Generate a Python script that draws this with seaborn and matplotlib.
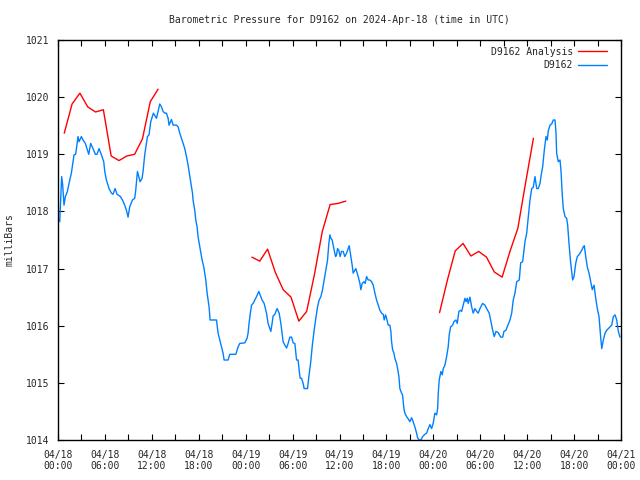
import numpy as np
import pandas as pd
import matplotlib
matplotlib.use("Agg")
import matplotlib.pyplot as plt
from matplotlib.lines import Line2D
import seaborn as sns

# Station D9162, 2024-04-18 00:00 UTC .. 2024-04-21 00:00 UTC (hours from start)
blue_hours = [
    0.22, 0.47, 0.6, 0.77, 0.94, 1.2, 1.5, 1.71, 2.05, 2.26, 2.56, 2.69, 2.99, 3.2, 3.5, 3.93,
    4.18, 4.48, 4.78, 4.99, 5.25, 5.55, 5.85, 5.98, 6.19, 6.53, 6.83, 7.04, 7.3, 7.55, 7.98,
    8.24, 8.53, 8.75, 8.96, 9.17, 9.52, 9.81, 9.94, 10.16, 10.5, 10.75, 10.88, 11.09, 11.44,
    11.64, 11.86, 12.2, 12.59, 12.8, 13.01, 13.23, 13.44, 13.65, 13.87, 14.08, 14.2, 14.38,
    14.51, 14.72, 15.15, 15.36, 15.57, 15.79, 16.0, 16.21, 16.43, 16.64, 16.76, 16.94, 17.07,
    17.2, 17.27, 17.49, 17.62, 17.79, 17.91, 18.13, 18.35, 18.48, 18.64, 18.77, 18.9, 19.07,
    19.19, 19.32, 19.45, 20.27, 20.47, 20.69, 20.91, 21.11, 21.24, 21.75, 21.97, 22.74, 23.03,
    23.25, 23.89, 24.18, 24.31, 24.44, 24.6, 24.75, 24.95, 25.17, 25.39, 25.68, 25.94, 26.1,
    26.36, 26.67, 26.87, 27.09, 27.22, 27.38, 27.51, 27.73, 28.02, 28.28, 28.5, 28.66, 28.79,
    29.01, 29.23, 29.43, 29.65, 29.87, 30.07, 30.29, 30.51, 30.71, 30.84, 30.97, 31.14, 31.35,
    31.48, 31.91, 32.08, 32.3, 32.55, 32.76, 32.94, 33.19, 33.4, 33.62, 33.83, 34.04, 34.26,
    34.47, 34.64, 34.77, 34.9, 35.06, 35.19, 35.32, 35.5, 35.62, 35.75, 35.91, 36.08, 36.26,
    36.47, 36.68, 36.9, 37.11, 37.24, 37.45, 37.62, 37.75, 37.97, 38.09, 38.26, 38.39, 38.61,
    38.73, 38.9, 39.12, 39.28, 39.46, 39.67, 39.89, 40.1, 40.31, 40.53, 40.74, 40.95, 41.17,
    41.38, 41.59, 41.72, 41.89, 42.02, 42.23, 42.44, 42.57, 42.66, 42.79, 42.96, 43.08, 43.3,
    43.43, 43.6, 43.72, 43.94, 44.06, 44.24, 44.36, 44.58, 44.79, 45.0, 45.22, 45.42, 45.64,
    45.86, 45.98, 46.19, 46.41, 46.63, 46.92, 47.14, 47.35, 47.56, 47.78, 47.98, 48.2, 48.42,
    48.55, 48.63, 48.75, 48.97, 49.14, 49.27, 49.48, 49.7, 49.9, 50.03, 50.21, 50.47, 50.63,
    50.89, 51.06, 51.27, 51.49, 51.62, 51.82, 52.04, 52.17, 52.34, 52.46, 52.68, 52.9, 53.1,
    53.32, 53.54, 53.74, 53.96, 54.3, 54.6, 54.82, 55.15, 55.37, 55.59, 55.79, 56.01, 56.3,
    56.61, 56.87, 57.03, 57.29, 57.45, 57.8, 58.02, 58.22, 58.44, 58.66, 58.99, 59.17, 59.42,
    59.72, 59.94, 60.06, 60.23, 60.36, 60.58, 60.78, 61.0, 61.22, 61.42, 61.64, 61.77, 61.98,
    62.19, 62.41, 62.57, 62.7, 62.92, 63.13, 63.34, 63.56, 63.69, 63.77, 63.98, 64.2, 64.33,
    64.49, 64.62, 64.84, 65.05, 65.18, 65.35, 65.57, 65.82, 65.99, 66.21, 66.41, 66.67, 66.98,
    67.18, 67.31, 67.49, 67.69, 67.91, 68.13, 68.33, 68.55, 68.77, 68.97, 69.19, 69.41, 69.54,
    69.74, 69.96, 70.17, 70.38, 70.6, 70.81, 71.02, 71.24, 71.45, 71.66, 71.87,
]
blue_mb = [
    1017.82, 1018.61, 1018.46, 1018.11, 1018.26, 1018.35, 1018.55, 1018.67, 1018.99, 1019.0,
    1019.31, 1019.22, 1019.31, 1019.25, 1019.19, 1019.0, 1019.19, 1019.1, 1019.0, 1019.0,
    1019.1, 1018.99, 1018.87, 1018.7, 1018.55, 1018.4, 1018.32, 1018.3, 1018.4, 1018.3,
    1018.26, 1018.2, 1018.11, 1018.02, 1017.9, 1018.08, 1018.2, 1018.23, 1018.37, 1018.7,
    1018.52, 1018.58, 1018.7, 1018.99, 1019.31, 1019.34, 1019.57, 1019.72, 1019.63, 1019.75,
    1019.88, 1019.83, 1019.75, 1019.72, 1019.72, 1019.63, 1019.51, 1019.57, 1019.61, 1019.51,
    1019.51, 1019.48, 1019.37, 1019.28, 1019.19, 1019.1, 1018.96, 1018.81, 1018.7, 1018.55,
    1018.43, 1018.32, 1018.2, 1018.02, 1017.85, 1017.73, 1017.56, 1017.38, 1017.21, 1017.12,
    1017.03, 1016.92, 1016.8, 1016.57, 1016.45, 1016.33, 1016.1, 1016.1, 1015.87, 1015.75,
    1015.63, 1015.52, 1015.4, 1015.4, 1015.5, 1015.5, 1015.63, 1015.69, 1015.7, 1015.78,
    1015.87, 1016.05, 1016.22, 1016.36, 1016.39, 1016.45, 1016.51, 1016.6, 1016.51, 1016.45,
    1016.39, 1016.22, 1016.04, 1015.95, 1015.9, 1016.04, 1016.17, 1016.2, 1016.3, 1016.22,
    1016.04, 1015.87, 1015.72, 1015.66, 1015.61, 1015.69, 1015.8, 1015.8, 1015.7, 1015.69,
    1015.4, 1015.4, 1015.22, 1015.08, 1015.08, 1014.99, 1014.9, 1014.9, 1015.11, 1015.34,
    1015.69, 1015.92, 1016.1, 1016.33, 1016.45, 1016.51, 1016.63, 1016.8, 1016.97, 1017.15,
    1017.44, 1017.59, 1017.53, 1017.5, 1017.41, 1017.32, 1017.21, 1017.24, 1017.35, 1017.32,
    1017.21, 1017.3, 1017.3, 1017.21, 1017.27, 1017.35, 1017.4, 1017.21, 1017.06, 1016.92,
    1016.97, 1017.0, 1016.92, 1016.86, 1016.74, 1016.63, 1016.74, 1016.77, 1016.74, 1016.86,
    1016.8, 1016.8, 1016.77, 1016.71, 1016.57, 1016.45, 1016.36, 1016.27, 1016.22, 1016.2,
    1016.1, 1016.19, 1016.13, 1016.01, 1016.01, 1015.9, 1015.72, 1015.58, 1015.52, 1015.43,
    1015.34, 1015.25, 1015.11, 1014.9, 1014.82, 1014.79, 1014.55, 1014.47, 1014.41, 1014.37,
    1014.32, 1014.39, 1014.32, 1014.23, 1014.12, 1014.04, 1014.0, 1014.0, 1014.06, 1014.1,
    1014.12, 1014.2, 1014.27, 1014.2, 1014.29, 1014.47, 1014.44, 1014.55, 1014.82, 1015.05,
    1015.2, 1015.14, 1015.25, 1015.31, 1015.46, 1015.63, 1015.84, 1015.98, 1016.01, 1016.07,
    1016.1, 1016.04, 1016.25, 1016.27, 1016.25, 1016.36, 1016.48, 1016.42, 1016.48, 1016.39,
    1016.5, 1016.33, 1016.22, 1016.3, 1016.25, 1016.22, 1016.3, 1016.39, 1016.36, 1016.3,
    1016.22, 1016.07, 1015.92, 1015.81, 1015.9, 1015.88, 1015.8, 1015.8, 1015.9, 1015.92,
    1015.98, 1016.1, 1016.22, 1016.45, 1016.57, 1016.77, 1016.8, 1017.1, 1017.12, 1017.47,
    1017.62, 1017.79, 1018.02, 1018.2, 1018.4, 1018.42, 1018.61, 1018.4, 1018.4, 1018.49,
    1018.62, 1018.78, 1019.07, 1019.31, 1019.25, 1019.41, 1019.51, 1019.53, 1019.6, 1019.6,
    1019.37, 1019.02, 1018.87, 1018.9, 1018.7, 1018.29, 1018.05, 1017.91, 1017.88, 1017.76,
    1017.44, 1017.09, 1016.8, 1016.86, 1017.09, 1017.21, 1017.25, 1017.32, 1017.38, 1017.4,
    1017.21, 1017.03, 1016.92, 1016.77, 1016.63, 1016.71, 1016.48, 1016.3, 1016.16, 1015.78,
    1015.6, 1015.75, 1015.87, 1015.92, 1015.95, 1015.98, 1016.01, 1016.16, 1016.19, 1016.1,
    1015.9, 1015.8,
]

# analysis runs (three separate 12 h stretches)
analysis_hours_1 = [0.8, 1.8, 2.8, 3.8, 4.8, 5.8, 6.8, 7.8, 8.8, 9.8, 10.8, 11.8, 12.8]
analysis_mb_1 = [1019.37, 1019.88, 1020.07, 1019.83, 1019.74, 1019.78, 1018.97, 1018.89,
                 1018.97, 1019.0, 1019.27, 1019.92, 1020.14]
analysis_hours_2 = [24.8, 25.8, 26.8, 27.8, 28.8, 29.8, 30.8, 31.8, 32.8, 33.8, 34.8, 35.8, 36.8]
analysis_mb_2 = [1017.2, 1017.13, 1017.34, 1016.93, 1016.63, 1016.5, 1016.08, 1016.25,
                 1016.9, 1017.65, 1018.12, 1018.14, 1018.18]
analysis_hours_3 = [48.8, 49.8, 50.8, 51.8, 52.8, 53.8, 54.8, 55.8, 56.8, 57.8, 58.8, 59.8, 60.8]
analysis_mb_3 = [1016.23, 1016.8, 1017.31, 1017.44, 1017.22, 1017.3, 1017.2, 1016.94,
                 1016.85, 1017.3, 1017.7, 1018.5, 1019.28]

tick_hours = [0, 6, 12, 18, 24, 30, 36, 42, 48, 54, 60, 66, 72]
tick_labels = ["04/18\n00:00", "04/18\n06:00", "04/18\n12:00", "04/18\n18:00",
               "04/19\n00:00", "04/19\n06:00", "04/19\n12:00", "04/19\n18:00",
               "04/20\n00:00", "04/20\n06:00", "04/20\n12:00", "04/20\n18:00",
               "04/21\n00:00"]

blue = "#0080ff"
red = "#ff0000"

sns.set_style("ticks")
plt.rcParams["font.family"] = ["DejaVu Sans Mono", "DejaVu Sans"]
plt.rcParams["font.size"] = 7

obs = pd.DataFrame({"hour": blue_hours, "mb": blue_mb})
ana = pd.concat([
    pd.DataFrame({"hour": analysis_hours_1, "mb": analysis_mb_1, "run": 1}),
    pd.DataFrame({"hour": analysis_hours_2, "mb": analysis_mb_2, "run": 2}),
    pd.DataFrame({"hour": analysis_hours_3, "mb": analysis_mb_3, "run": 3}),
])

fig = plt.figure(figsize=(6.4, 4.8), dpi=100)
ax = fig.add_axes([58 / 640, 40 / 480, 563 / 640, 400 / 480])

sns.lineplot(data=ana, x="hour", y="mb", units="run", estimator=None, sort=False,
             color=red, lw=1.0, ax=ax, legend=False)
sns.lineplot(data=obs, x="hour", y="mb", estimator=None, sort=False,
             color=blue, lw=1.0, ax=ax, legend=False)

ax.set_xlim(0, 72)
ax.set_ylim(1014, 1021)
ax.set_xticks(tick_hours)
ax.set_xticklabels(tick_labels)
ax.set_xticks(np.arange(3, 72, 6), minor=True)
ax.set_yticks(np.arange(1014, 1022, 1))
ax.tick_params(which="both", direction="in", top=True, right=True, color="black", width=0.8)
ax.tick_params(axis="x", which="major", length=4, pad=7, labelsize=7)
ax.tick_params(axis="x", which="minor", length=4)
ax.tick_params(axis="y", length=4, pad=6, labelsize=7)
for s in ax.spines.values():
    s.set_color("black")
    s.set_linewidth(1.0)

ax.set_xlabel("")
ax.set_ylabel("milliBars", fontsize=7)
ax.yaxis.set_label_coords(-0.078, 0.5)
ax.set_title("Barometric Pressure for D9162 on 2024-Apr-18 (time in UTC)", fontsize=7, pad=12)

handles = [Line2D([], [], color=red, lw=1.0), Line2D([], [], color=blue, lw=1.0)]
ax.legend(handles, ["D9162 Analysis", "D9162"], loc="upper right",
          bbox_to_anchor=(612 / 640, 1 - 42 / 480), bbox_transform=fig.transFigure,
          frameon=False, markerfirst=False, handlelength=3.0, handletextpad=0.5,
          labelspacing=0.35, borderpad=0, fontsize=7)

fig.savefig("out.png", dpi=100)
